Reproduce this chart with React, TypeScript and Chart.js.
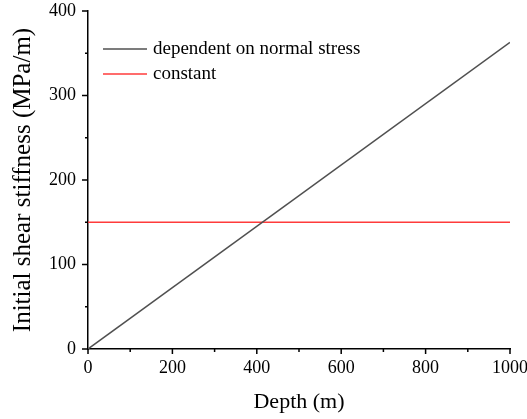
import React, { useEffect, useRef } from "react";
import { Chart, registerables } from "chart.js";

Chart.register(...registerables);

const depth = [0, 1000];
const dependentStiffness = [0, 363];
const constantStiffness = [150, 150];
const seriesLabels = ["dependent on normal stress", "constant"];
const seriesColors = ["#505050", "#ff3b3b"];
const xMajorTicks = [0, 200, 400, 600, 800, 1000];
const xMinorTicks = [100, 300, 500, 700, 900];
const yMajorTicks = [0, 100, 200, 300, 400];
const yMinorTicks = [50, 150, 250, 350];

const FONT = "'Liberation Serif', 'Times New Roman', serif";

const tickPlugin = {
  id: "customTicks",
  afterDraw(chart: any) {
    const ctx = chart.ctx;
    const xs = chart.scales.x;
    const ys = chart.scales.y;
    const area = chart.chartArea;
    ctx.save();
    ctx.strokeStyle = "#000";
    ctx.lineWidth = 1.5;
    ctx.beginPath();
    xMajorTicks.forEach((v) => {
      const p = xs.getPixelForValue(v);
      ctx.moveTo(p, area.bottom);
      ctx.lineTo(p, area.bottom + 5);
    });
    xMinorTicks.forEach((v) => {
      const p = xs.getPixelForValue(v);
      ctx.moveTo(p, area.bottom);
      ctx.lineTo(p, area.bottom + 3);
    });
    yMajorTicks.forEach((v) => {
      const p = ys.getPixelForValue(v);
      ctx.moveTo(area.left, p);
      ctx.lineTo(area.left - 6, p);
    });
    yMinorTicks.forEach((v) => {
      const p = ys.getPixelForValue(v);
      ctx.moveTo(area.left, p);
      ctx.lineTo(area.left - 3, p);
    });
    ctx.stroke();

    // legend inside plot
    const lx = area.left + 15;
    const ly0 = area.top + 38;
    const gap = 25;
    ctx.font = `19px ${FONT}`;
    ctx.textBaseline = "middle";
    ctx.textAlign = "left";
    chart.data.datasets.forEach((ds: any, i: number) => {
      const y = ly0 + i * gap;
      ctx.strokeStyle = ds.borderColor;
      ctx.lineWidth = 1.5;
      ctx.beginPath();
      ctx.moveTo(lx, y);
      ctx.lineTo(lx + 44, y);
      ctx.stroke();
      ctx.fillStyle = "#000";
      ctx.fillText(ds.label, lx + 50, y);
    });
    ctx.restore();
  },
};

export default function App() {
  const ref = useRef<HTMLCanvasElement>(null);
  useEffect(() => {
    document.body.style.margin = "0";
    const chart = new Chart(ref.current!, {
      type: "line",
      data: {
        datasets: [
          {
            label: seriesLabels[0],
            data: depth.map((d, i) => ({ x: d, y: dependentStiffness[i] })),
            borderColor: seriesColors[0],
            borderWidth: 1.5,
            pointRadius: 0,
            fill: false,
          },
          {
            label: seriesLabels[1],
            data: depth.map((d, i) => ({ x: d, y: constantStiffness[i] })),
            borderColor: seriesColors[1],
            borderWidth: 1.5,
            pointRadius: 0,
            fill: false,
          },
        ],
      },
      options: {
        animation: false,
        responsive: false,
        layout: { padding: { top: 11, right: 17, left: 0, bottom: 0 } },
        plugins: { legend: { display: false }, tooltip: { enabled: false } },
        scales: {
          x: {
            type: "linear",
            min: 0,
            max: 1000,
            grid: { display: false, drawTicks: false },
            border: { display: true, color: "#000", width: 1.5 },
            ticks: {
              stepSize: 200,
              padding: 8,
              color: "#000",
              font: { family: FONT, size: 18 },
              maxRotation: 0,
              callback: (v: any) => String(v),
            },
            title: {
              display: true,
              text: "Depth (m)",
              color: "#000",
              font: { family: FONT, size: 22 },
              padding: { top: 0, bottom: 4 },
            },
            afterFit: (s: any) => {
              s.height = 70;
              s.paddingLeft = 0;
              s.paddingRight = 0;
            },
          },
          y: {
            type: "linear",
            min: 0,
            max: 400,
            grid: { display: false, drawTicks: false },
            border: { display: true, color: "#000", width: 1.5 },
            ticks: {
              stepSize: 100,
              padding: 12,
              color: "#000",
              font: { family: FONT, size: 18 },
            },
            title: {
              display: true,
              text: "Initial shear stiffness (MPa/m)",
              color: "#000",
              font: { family: FONT, size: 25 },
              padding: { top: 8, bottom: 6 },
            },
            afterFit: (s: any) => {
              s.width = 88;
              s.paddingTop = 0;
              s.paddingBottom = 0;
            },
          },
        },
      },
      plugins: [tickPlugin],
    });
    return () => chart.destroy();
  }, []);
  return (
    <div style={{ width: 527, height: 419 }}>
      <canvas ref={ref} width={527} height={419} style={{ display: "block" }} />
    </div>
  );
}
